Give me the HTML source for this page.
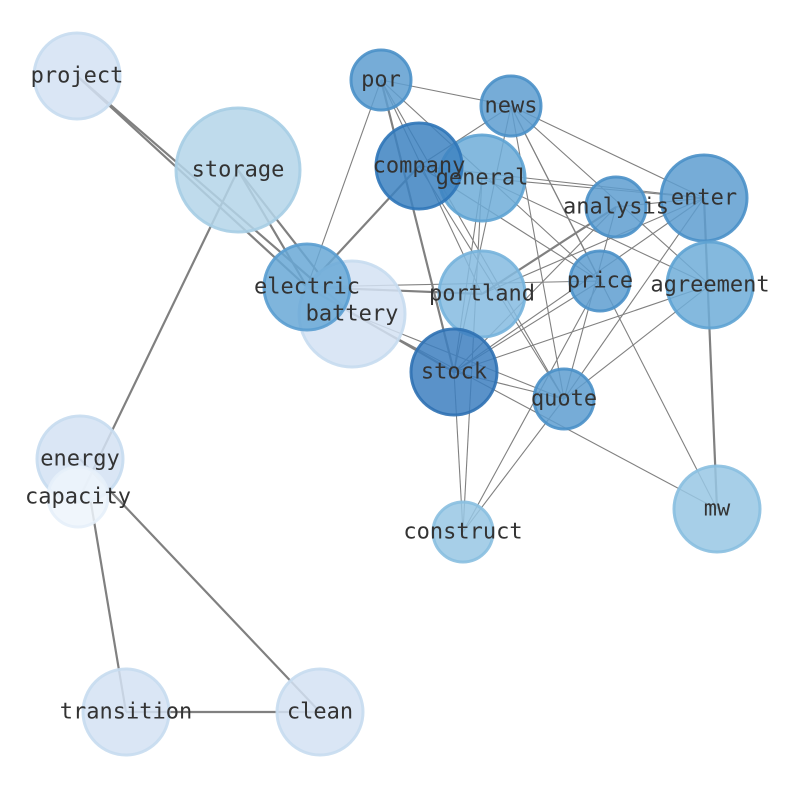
<!DOCTYPE html>
<html><head><meta charset="utf-8"><style>
html,body{margin:0;padding:0;background:#fff;width:794px;height:790px;overflow:hidden}
text{font-family:"DejaVu Sans Mono","Liberation Mono",monospace;font-size:22px;fill:#333;text-anchor:middle;dominant-baseline:central}
</style></head><body>
<svg width="794" height="790" viewBox="0 0 794 790" xmlns="http://www.w3.org/2000/svg">
<g stroke="#808080" fill="none">
<g stroke-width="2.2">
<line x1="77" y1="76" x2="307" y2="287"/>
<line x1="77" y1="76" x2="352" y2="314"/>
<line x1="238" y1="170" x2="307" y2="287"/>
<line x1="238" y1="170" x2="320" y2="275"/>
<line x1="238" y1="170" x2="80" y2="497"/>
<line x1="80" y1="459" x2="320" y2="712"/>
<line x1="90" y1="497" x2="126" y2="712"/>
<line x1="126" y1="712" x2="320" y2="712"/>
<line x1="704" y1="198" x2="717" y2="509"/>
<line x1="381" y1="80" x2="454" y2="372"/>
<line x1="307" y1="287" x2="419" y2="166"/>
<line x1="307" y1="287" x2="454" y2="372"/>
<line x1="307" y1="287" x2="482" y2="294"/>
<line x1="482" y1="294" x2="616" y2="207"/>
</g>
<g stroke-width="1.1">
<line x1="381" y1="80" x2="511" y2="106"/>
<line x1="381" y1="80" x2="482" y2="294"/>
<line x1="381" y1="80" x2="564" y2="399"/>
<line x1="381" y1="80" x2="600" y2="281"/>
<line x1="381" y1="80" x2="307" y2="287"/>
<line x1="511" y1="106" x2="704" y2="198"/>
<line x1="511" y1="106" x2="710" y2="285"/>
<line x1="511" y1="106" x2="600" y2="281"/>
<line x1="511" y1="106" x2="564" y2="399"/>
<line x1="511" y1="106" x2="454" y2="372"/>
<line x1="511" y1="106" x2="717" y2="509"/>
<line x1="511" y1="106" x2="419" y2="166"/>
<line x1="419" y1="166" x2="704" y2="198"/>
<line x1="419" y1="166" x2="564" y2="399"/>
<line x1="419" y1="166" x2="600" y2="281"/>
<line x1="482" y1="178" x2="454" y2="372"/>
<line x1="482" y1="178" x2="704" y2="198"/>
<line x1="482" y1="178" x2="710" y2="285"/>
<line x1="482" y1="178" x2="463" y2="532"/>
<line x1="616" y1="207" x2="704" y2="198"/>
<line x1="616" y1="207" x2="454" y2="372"/>
<line x1="616" y1="207" x2="564" y2="399"/>
<line x1="704" y1="198" x2="454" y2="372"/>
<line x1="704" y1="198" x2="564" y2="399"/>
<line x1="704" y1="198" x2="482" y2="294"/>
<line x1="710" y1="285" x2="454" y2="372"/>
<line x1="710" y1="285" x2="564" y2="399"/>
<line x1="600" y1="281" x2="454" y2="372"/>
<line x1="600" y1="281" x2="463" y2="532"/>
<line x1="600" y1="281" x2="307" y2="287"/>
<line x1="454" y1="372" x2="564" y2="399"/>
<line x1="454" y1="372" x2="463" y2="532"/>
<line x1="564" y1="399" x2="463" y2="532"/>
<line x1="352" y1="314" x2="717" y2="509"/>
<line x1="352" y1="314" x2="564" y2="399"/>
</g>
</g>
<g stroke-width="3" fill-opacity="0.85" stroke-opacity="0.9">
<circle cx="77" cy="76" r="43" fill="#d3e2f3" stroke="#c6dbef"/>
<circle cx="238" cy="170" r="62" fill="#b4d5e9" stroke="#a6cde4"/>
<circle cx="381" cy="80" r="30" fill="#5e9ed0" stroke="#4a90c8"/>
<circle cx="511" cy="106" r="30" fill="#5e9ed0" stroke="#4a90c8"/>
<circle cx="482" cy="178" r="43" fill="#6fadd8" stroke="#5ea3d3"/>
<circle cx="419" cy="166" r="43" fill="#3d82c1" stroke="#2f75b8"/>
<circle cx="616" cy="207" r="30" fill="#5e9ed0" stroke="#4a90c8"/>
<circle cx="704" cy="198" r="43" fill="#5e9ed0" stroke="#4a90c8"/>
<circle cx="352" cy="314" r="53" fill="#d3e2f3" stroke="#c6dbef"/>
<circle cx="307" cy="287" r="43" fill="#68a8d6" stroke="#5a9dd0"/>
<circle cx="482" cy="294" r="43" fill="#85bbe0" stroke="#76b2db"/>
<circle cx="600" cy="281" r="30" fill="#5e9ed0" stroke="#4a90c8"/>
<circle cx="710" cy="285" r="43" fill="#6fadd8" stroke="#5ea3d3"/>
<circle cx="454" cy="372" r="43" fill="#3d7fc0" stroke="#2f71b3"/>
<circle cx="564" cy="399" r="30" fill="#5e9ed0" stroke="#4a90c8"/>
<circle cx="80" cy="459" r="43" fill="#d3e2f3" stroke="#c6dbef"/>
<circle cx="78" cy="497" r="30" fill="#edf4fb" stroke="#e6effa"/>
<circle cx="463" cy="532" r="30" fill="#98c7e4" stroke="#8abfe0"/>
<circle cx="717" cy="509" r="43" fill="#98c7e4" stroke="#8abfe0"/>
<circle cx="126" cy="712" r="43" fill="#d3e2f3" stroke="#c6dbef"/>
<circle cx="320" cy="712" r="43" fill="#d3e2f3" stroke="#c6dbef"/>
</g>
<g>
<text x="77" y="76">project</text>
<text x="238" y="170">storage</text>
<text x="381" y="80">por</text>
<text x="511" y="106">news</text>
<text x="419" y="166">company</text>
<text x="482" y="178">general</text>
<text x="616" y="207">analysis</text>
<text x="704" y="198">enter</text>
<text x="307" y="287">electric</text>
<text x="352" y="314">battery</text>
<text x="482" y="294">portland</text>
<text x="600" y="281">price</text>
<text x="710" y="285">agreement</text>
<text x="454" y="372">stock</text>
<text x="564" y="399">quote</text>
<text x="80" y="459">energy</text>
<text x="78" y="497">capacity</text>
<text x="463" y="532">construct</text>
<text x="717" y="509">mw</text>
<text x="126" y="712">transition</text>
<text x="320" y="712">clean</text>
</g>
</svg>
</body></html>
